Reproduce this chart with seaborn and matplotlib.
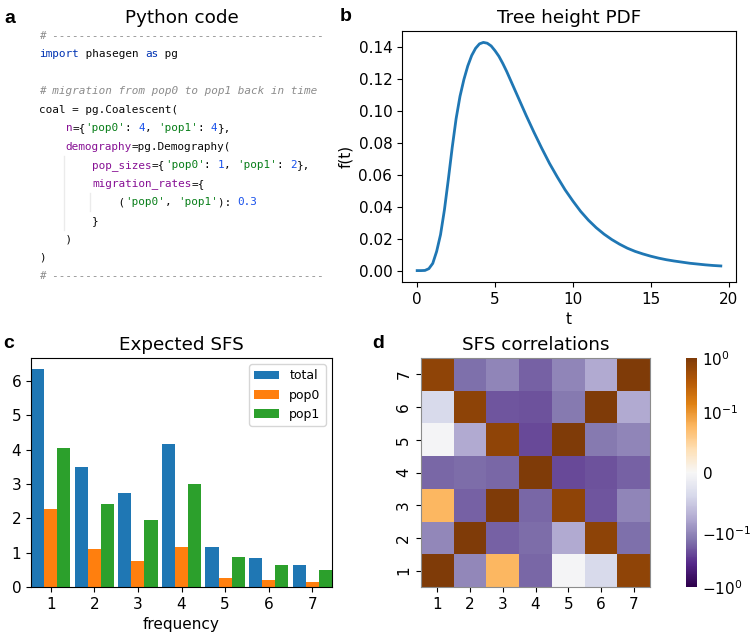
import matplotlib
matplotlib.use('Agg')
import matplotlib.pyplot as plt
from matplotlib.colors import SymLogNorm
import numpy as np
import pandas as pd
import seaborn as sns

# %% data
# b: tree height density
t_vals = [0.0, 0.25, 0.5, 0.75, 1.0, 1.25, 1.5, 1.75, 2.0, 2.25, 2.5, 2.75,
          3.0, 3.25, 3.5, 3.75, 4.0, 4.25, 4.5, 4.75, 5.0, 5.25, 5.5, 5.75,
          6.0, 6.25, 6.5, 7.0, 7.5, 8.0, 8.5, 9.0, 9.5, 10.0, 10.5, 11.0,
          11.5, 12.0, 12.5, 13.0, 13.5, 14.0, 14.5, 15.0, 15.5, 16.0, 16.5,
          17.0, 17.5, 18.0, 18.5, 19.0, 19.5]
pdf_vals = [0.0, 0.0, 0.0001, 0.0012, 0.0045, 0.012, 0.0225, 0.038, 0.057,
            0.077, 0.095, 0.109, 0.1195, 0.128, 0.1345, 0.139, 0.1418, 0.1427,
            0.1422, 0.1405, 0.1375, 0.134, 0.1295, 0.1245, 0.119, 0.1135,
            0.108, 0.097, 0.0865, 0.0765, 0.067, 0.0585, 0.0505, 0.0435,
            0.037, 0.0315, 0.0268, 0.0228, 0.0194, 0.0165, 0.014, 0.012,
            0.0104, 0.009, 0.0078, 0.0068, 0.006, 0.0053, 0.0046, 0.0041,
            0.0036, 0.0032, 0.0029]

# c: expected SFS
freqs = ['1', '2', '3', '4', '5', '6', '7']
pops = ['total', 'pop0', 'pop1']
sfs_total = [6.35, 3.50, 2.73, 4.15, 1.16, 0.83, 0.65]
sfs_pop0 = [2.28, 1.10, 0.77, 1.16, 0.27, 0.19, 0.14]
sfs_pop1 = [4.06, 2.42, 1.96, 2.99, 0.88, 0.65, 0.50]

# d: SFS correlations (row i = frequency i)
sfs_corr = [
    [1.0, -0.10, 0.076, -0.162, -0.003, -0.038, 0.72],
    [-0.10, 1.0, -0.178, -0.155, -0.076, 0.74, -0.146],
    [0.076, -0.178, 1.0, -0.162, 0.72, -0.209, -0.105],
    [-0.162, -0.155, -0.162, 1.0, -0.24, -0.211, -0.178],
    [-0.003, -0.076, 0.72, -0.24, 1.0, -0.128, -0.103],
    [-0.038, 0.74, -0.209, -0.211, -0.128, 1.0, -0.076],
    [0.72, -0.146, -0.105, -0.178, -0.103, -0.076, 1.0],
]

# a: code snippet, (text, kind) segments per line
dash_line = [('# ' + '-' * 41, 'comment')]
code_lines = [
    dash_line,
    [('import', 'kw'), (' phasegen ', 'plain'), ('as', 'kw'), (' pg', 'plain')],
    [],
    [('# migration from pop0 to pop1 back in time', 'comment')],
    [('coal = pg.Coalescent(', 'plain')],
    [('    ', 'plain'), ('n', 'arg'), ('={', 'plain'), ("'pop0'", 'str'), (': ', 'plain'),
     ('4', 'num'), (', ', 'plain'), ("'pop1'", 'str'), (': ', 'plain'), ('4', 'num'), ('},', 'plain')],
    [('    ', 'plain'), ('demography', 'arg'), ('=pg.Demography(', 'plain')],
    [('        ', 'plain'), ('pop_sizes', 'arg'), ('={', 'plain'), ("'pop0'", 'str'), (': ', 'plain'),
     ('1', 'num'), (', ', 'plain'), ("'pop1'", 'str'), (': ', 'plain'), ('2', 'num'), ('},', 'plain')],
    [('        ', 'plain'), ('migration_rates', 'arg'), ('={', 'plain')],
    [('            (', 'plain'), ("'pop0'", 'str'), (', ', 'plain'), ("'pop1'", 'str'),
     ('): ', 'plain'), ('0.3', 'num')],
    [('        }', 'plain')],
    [('    )', 'plain')],
    [(')', 'plain')],
    dash_line,
]
code_colors = {'plain': '#080808', 'kw': '#0033b3', 'comment': '#8c8c8c',
               'str': '#067d17', 'num': '#1750eb', 'arg': '#871094'}

# %%
plt.rcParams.update({'font.size': 11})
W, H = 750, 633
fig = plt.figure(figsize=(W / 100, H / 100), dpi=100)

def px_axes(left, top, right, bottom):
    return fig.add_axes([left / W, 1 - bottom / H, (right - left) / W, (bottom - top) / H])

ax_a = px_axes(36, 31, 328, 282)
ax_b = px_axes(402, 31, 736, 282)
ax_c = px_axes(31, 358, 332, 587)
ax_d = px_axes(421, 358, 650, 587)
cax = px_axes(686, 358, 697, 587)

# %% a: code
ax_a.set_xlim(36, 328)
ax_a.set_ylim(282, 31)
ax_a.axis('off')
ax_a.set_title('Python code')
x0, cw, y0, dy = 39.3, 6.6, 36, 18.46
for i, segs in enumerate(code_lines):
    col = 0
    for txt, kind in segs:
        ax_a.text(x0 + col * cw, y0 + i * dy, txt, family='DejaVu Sans Mono', size=7.9,
                  color=code_colors[kind], style='italic' if kind == 'comment' else 'normal',
                  va='center', ha='left')
        col += len(txt)
# faint indent guides
ax_a.plot([x0 + 4 * cw - 2] * 2, [y0 + 6.5 * dy, y0 + 10.5 * dy], color='#ebebeb', lw=1)
ax_a.plot([x0 + 8 * cw - 2] * 2, [y0 + 8.5 * dy, y0 + 9.5 * dy], color='#ebebeb', lw=1)

# %% b: tree height PDF
sns.lineplot(x=t_vals, y=pdf_vals, ax=ax_b, color='tab:blue', linewidth=2)
ax_b.set_title('Tree height PDF')
ax_b.set_xlabel('t')
ax_b.set_ylabel('f(t)')

# %% c: expected SFS
df_sfs = pd.DataFrame({'frequency': freqs * 3,
                       'value': sfs_total + sfs_pop0 + sfs_pop1,
                       'population': [p for p in pops for _ in freqs]})
sns.barplot(data=df_sfs, x='frequency', y='value', hue='population', hue_order=pops,
            order=freqs, palette=sns.color_palette('tab10', 3), saturation=1,
            width=0.9, errorbar=None, ax=ax_c)
ax_c.set_xlim(-0.45, 6.45)
ax_c.set_ylabel('')
ax_c.set_title('Expected SFS')
sns.move_legend(ax_c, 'upper right', title=None, fontsize=9)

# %% d: SFS correlations
corr_df = pd.DataFrame(sfs_corr, index=freqs, columns=freqs)
sns.heatmap(corr_df, ax=ax_d, cbar_ax=cax, cmap='PuOr_r',
            norm=SymLogNorm(linthresh=0.1, linscale=1, vmin=-1, vmax=1, base=10))
ax_d.invert_yaxis()
ax_d.set_yticklabels(freqs, rotation=90, va='center')
ax_d.set_xticklabels(freqs, rotation=0)
ax_d.set_title('SFS correlations')
for s in ax_d.spines.values():
    s.set_visible(True)
    s.set_color('#8c8c8c')
cax.tick_params(length=0)

# panel letters
for lab, x, y in [('a', 4, 23), ('b', 340, 21), ('c', 3, 348), ('d', 372, 348)]:
    fig.text(x / W, 1 - y / H, lab, weight='bold', size=14, family='Liberation Sans',
             va='baseline')

fig.savefig('out.png', dpi=100)
